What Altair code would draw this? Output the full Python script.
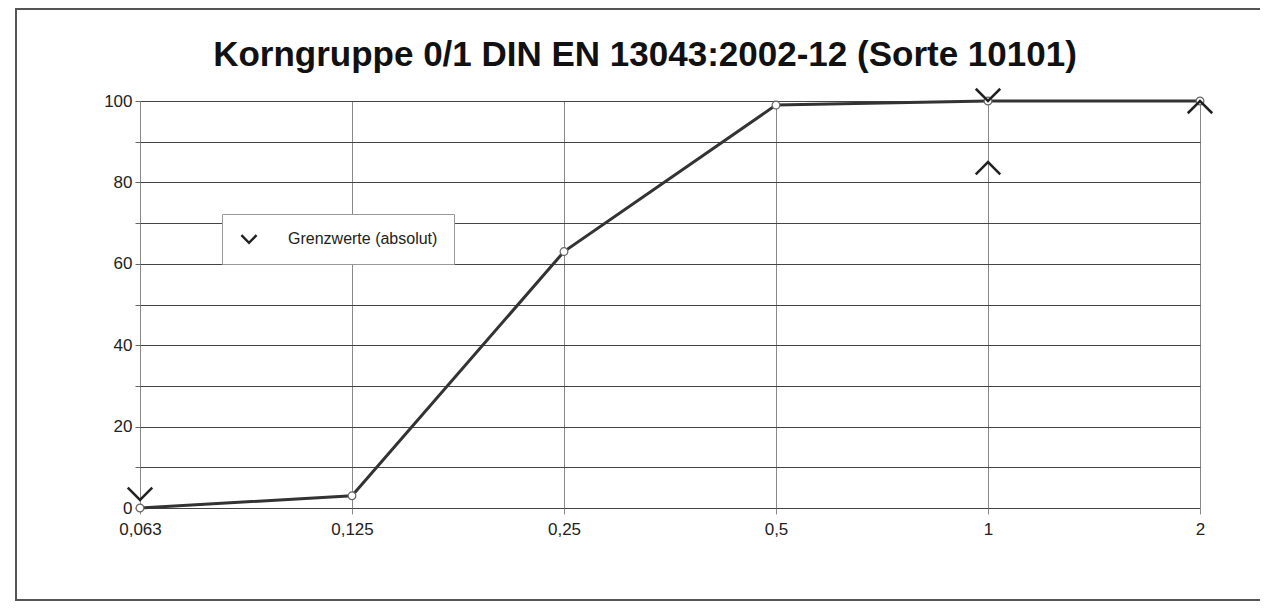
import altair as alt
import pandas as pd

# sieve sizes (mm) as printed on the x axis
sizes = ["0,063", "0,125", "0,25", "0,5", "1", "2"]
# passing (%) of the sample
passing = [0, 3, 63, 99, 100, 100]

# limit values (absolute)
upper_sizes = ["0,063", "1"]
upper_vals = [2, 100]
lower_sizes = ["1", "2"]
lower_vals = [85, 100]

legend_label = "Grenzwerte (absolut)"
title_text = "Korngruppe 0/1 DIN EN 13043:2002-12 (Sorte 10101)"

df = pd.DataFrame({"size": sizes, "passing": passing})
df_up = pd.DataFrame({"size": upper_sizes, "val": upper_vals, "series": [legend_label] * len(upper_vals)})
df_lo = pd.DataFrame({"size": lower_sizes, "val": lower_vals})

W, H = 1060, 407

x_enc = alt.X("size:N", sort=sizes,
              scale=alt.Scale(type="point", padding=0, domain=sizes),
              axis=alt.Axis(title=None, labelAngle=0, labelFontSize=17, labelColor="#222",
                            labelFont="Liberation Sans", labelPadding=7,
                            grid=True, gridColor="#888", gridWidth=1,
                            domain=False, ticks=True, tickColor="#888", tickSize=6))
y_scale = alt.Scale(domain=[0, 100], nice=False)
y_axis = alt.Axis(title=None, values=list(range(0, 101, 10)),
                  labelExpr="datum.value % 20 == 0 ? datum.label : ''",
                  labelFontSize=17, labelColor="#222", labelFont="Liberation Sans",
                  grid=True, gridColor="#444", gridWidth=1,
                  domain=False, ticks=True, tickColor="#666", tickSize=5, labelPadding=3)

V_TIP = "M -1 -1 L 0 0 L 1 -1"      # down arrow, tip at value
A_TIP = "M -1 1 L 0 0 L 1 1"        # up arrow, tip at value
V_LEG = "M -1 -0.5 L 0 0.5 L 1 -0.5"

line = alt.Chart(df).mark_line(color="#333", strokeWidth=3).encode(
    x=x_enc, y=alt.Y("passing:Q", scale=y_scale, axis=y_axis))

pts = alt.Chart(df).mark_point(shape="circle", filled=True, fill="white",
                               stroke="#666", strokeWidth=1.2, size=60, opacity=1).encode(
    x=alt.X("size:N", sort=sizes), y=alt.Y("passing:Q"))

upper = alt.Chart(df_up).mark_point(shape=V_TIP, filled=False, strokeWidth=2.5,
                                    size=600, opacity=1).encode(
    x=alt.X("size:N", sort=sizes), y=alt.Y("val:Q"),
    stroke=alt.Stroke("series:N", scale=alt.Scale(range=["#222"]),
                      legend=alt.Legend(title=None, orient="none", legendX=82, legendY=113,
                                        symbolType=V_LEG, symbolSize=230, symbolStrokeWidth=2.5,
                                        symbolFillColor="transparent",
                                        labelFontSize=16, labelFont="Liberation Sans",
                                        labelColor="#222", fillColor="white", strokeColor="#999",
                                        padding=16, symbolOffset=2, labelOffset=30)))

lower = alt.Chart(df_lo).mark_point(shape=A_TIP, filled=False, stroke="#222", strokeWidth=2.5,
                                    size=600, opacity=1).encode(
    x=alt.X("size:N", sort=sizes), y=alt.Y("val:Q"))

frame = alt.Chart(pd.DataFrame({"a": [0]})).mark_rect(
    fill=None, stroke="#555", strokeWidth=2).encode(
    x=alt.value(-124), x2=alt.value(1150), y=alt.value(-92), y2=alt.value(499))

chart = alt.layer(frame, line, pts, upper, lower).properties(
    width=W, height=H,
    title=alt.TitleParams(title_text, fontSize=35, font="Liberation Sans", fontWeight="bold",
                          color="#111", anchor="middle", dx=-25, offset=-65),
    autosize=alt.AutoSizeParams(type="none"),
    padding={"left": 132, "top": 93, "right": 60, "bottom": 96},
).configure_view(stroke="#333", strokeWidth=2.5).configure(background="white")

chart.save("out.html", embed_options={"renderer": "svg", "actions": False})
